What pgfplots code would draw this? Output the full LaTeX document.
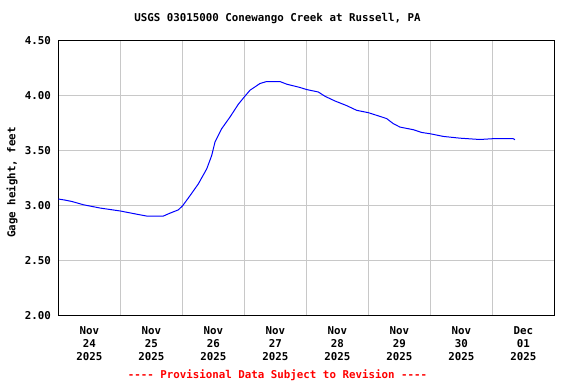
\documentclass[border=0pt]{standalone}
\usepackage{pgfplots}
\pgfplotsset{compat=1.18}
\usepackage{fontspec}
\setmonofont{DejaVu Sans Mono}
\definecolor{gridgray}{RGB}{200,200,200}
\begin{document}
\begin{tikzpicture}[font=\fontsize{10.8bp}{12.6bp}\selectfont\ttfamily\bfseries]
\useasboundingbox (0,0) rectangle (576bp,384bp);
\begin{axis}[
  at={(58.3bp,68.5bp)}, anchor=south west,
  scale only axis, width=496bp, height=275bp,
  xmin=0, xmax=8, ymin=2, ymax=4.5,
  xtick={0.5,1.5,...,7.5},
  xticklabels={{Nov\\24\\2025},{Nov\\25\\2025},{Nov\\26\\2025},{Nov\\27\\2025},{Nov\\28\\2025},{Nov\\29\\2025},{Nov\\30\\2025},{Dec\\01\\2025}},
  xticklabel style={align=center, yshift=-8bp},
  minor xtick={1,2,...,7},
  xminorgrids=true, xmajorgrids=false,
  ytick={2,2.5,3,3.5,4,4.5},
  yticklabels={2.00,2.50,3.00,3.50,4.00,4.50},
  yticklabel style={xshift=-4bp},
  ymajorgrids=true,
  grid style={gridgray, line width=1bp},
  minor grid style={gridgray, line width=1bp},
  major tick length=0pt, minor tick length=0pt,
  axis line style={black, line width=1.5bp},
]
\addplot[blue, line width=1bp] coordinates {
(0,3.059) (0.1,3.05) (0.216,3.037) (0.403,3.007) (0.673,2.977) (1.0,2.95)
(1.274,2.92) (1.425,2.904) (1.694,2.904) (1.8,2.93) (1.935,2.96) (2.006,2.998)
(2.124,3.089) (2.258,3.196) (2.394,3.333) (2.474,3.454) (2.527,3.576)
(2.635,3.698) (2.769,3.804) (2.903,3.920) (3.0,3.987) (3.092,4.048)
(3.253,4.109) (3.36,4.127) (3.575,4.127) (3.684,4.103) (3.898,4.073)
(4.006,4.054) (4.193,4.032) (4.301,3.993) (4.463,3.950) (4.651,3.908)
(4.813,3.865) (5.0,3.844) (5.189,3.81) (5.297,3.79) (5.403,3.744)
(5.511,3.713) (5.726,3.689) (5.861,3.664) (6.0,3.652) (6.21,3.628)
(6.479,3.612) (6.8,3.60) (7.0,3.607) (7.339,3.607) (7.366,3.598)
};
\end{axis}
\node at (277.5bp,365bp) {USGS 03015000 Conewango Creek at Russell, PA};
\node[rotate=90] at (12bp,201.5bp) {Gage height, feet};
\node[text={rgb,255:red,255;green,0;blue,0}] at (277.5bp,9bp) {---- Provisional Data Subject to Revision ----};
\end{tikzpicture}
\end{document}
